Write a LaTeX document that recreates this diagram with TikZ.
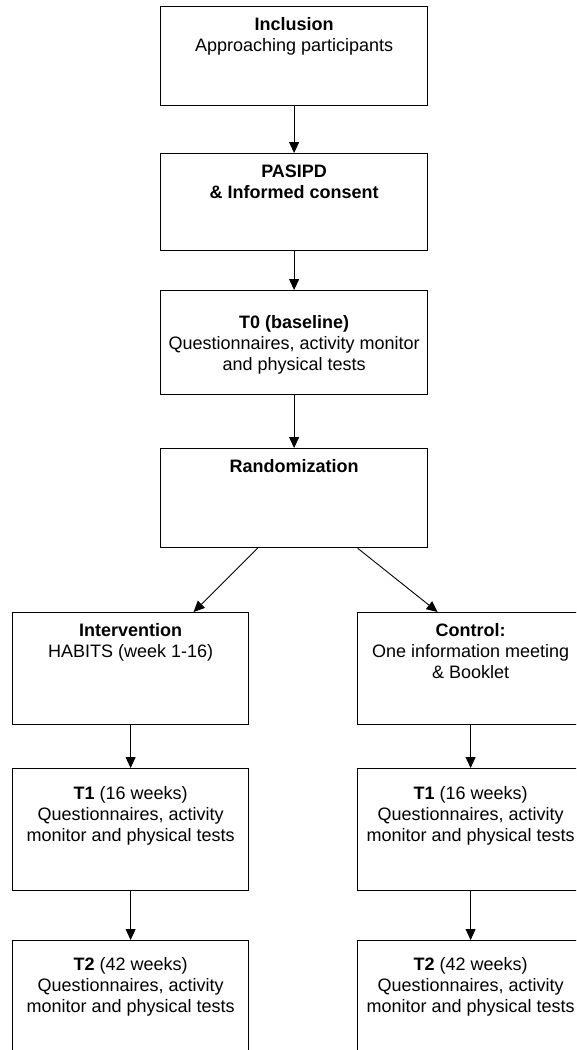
\documentclass[tikz,border=0pt]{standalone}
\usepackage{fontspec}
\setmainfont{Liberation Sans}
\usepackage{tikz}
\usetikzlibrary{arrows.meta}

\newcommand{\boxtext}[4][24pt]{\parbox[t][#3][t]{#2}{\centering\rule{0pt}{#1}#4}}

\begin{document}
\begin{tikzpicture}[x=1pt,y=-1pt,
  stagebox/.style={draw, line width=1.2pt, anchor=north west, inner sep=0pt,
    font=\fontsize{18}{21}\selectfont},
  flow/.style={-{Triangle[width=10pt,length=11pt]}, line width=0.9pt}]
\useasboundingbox (0,0) rectangle (576,1050);
\clip (0,0) rectangle (576,1050);
% centre column
\node[stagebox] (incl) at (160,6) {\boxtext{267pt}{99pt}{\textbf{Inclusion}\\Approaching participants}};
\node[stagebox] (pasipd) at (160,153) {\boxtext{267pt}{97pt}{\textbf{PASIPD}\\\textbf{\& Informed consent}}};
\node[stagebox] (tzero) at (160,290) {\boxtext[38pt]{267pt}{104pt}{\textbf{T0 (baseline)}\\Questionnaires, activity monitor\\and physical tests}};
\node[stagebox] (rand) at (160,448) {\boxtext{267pt}{99pt}{\textbf{Randomization}}};
% two arms
\node[stagebox] (interv) at (12,612) {\boxtext{236pt}{112pt}{\textbf{Intervention}\\HABITS (week 1-16)}};
\node[stagebox] (contr) at (357,612) {\boxtext{226pt}{112pt}{\textbf{Control:}\\One information meeting\\\& Booklet}};
\node[stagebox] (tonei) at (12,768) {\boxtext[31pt]{236pt}{122pt}{\textbf{T1} (16 weeks)\\Questionnaires, activity\\monitor and physical tests}};
\node[stagebox] (tonec) at (357,768) {\boxtext[31pt]{226pt}{122pt}{\textbf{T1} (16 weeks)\\Questionnaires, activity\\monitor and physical tests}};
\node[stagebox] (ttwoi) at (12,940) {\boxtext[30pt]{236pt}{130pt}{\textbf{T2} (42 weeks)\\Questionnaires, activity\\monitor and physical tests}};
\node[stagebox] (ttwoc) at (357,940) {\boxtext[30pt]{226pt}{130pt}{\textbf{T2} (42 weeks)\\Questionnaires, activity\\monitor and physical tests}};
% arrows
\draw[flow] (incl) -- (pasipd);
\draw[flow] (pasipd) -- (tzero);
\draw[flow] (tzero) -- (rand);
\draw[flow] ([xshift=-36.5pt]rand.south) -- ([xshift=63pt]interv.north);
\draw[flow] ([xshift=63.5pt]rand.south) -- ([xshift=-33pt]contr.north);
\draw[flow] (interv) -- (tonei);
\draw[flow] (tonei) -- (ttwoi);
\draw[flow] (contr) -- (tonec);
\draw[flow] (tonec) -- (ttwoc);
\end{tikzpicture}
\end{document}
